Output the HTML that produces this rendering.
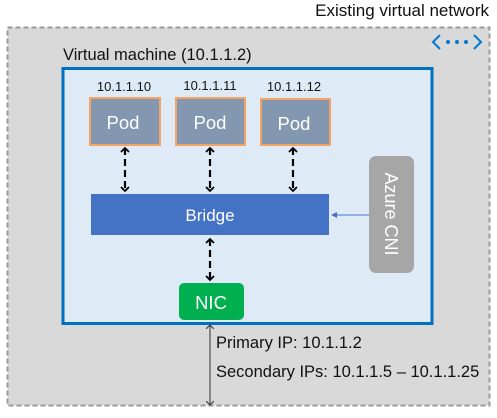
<!DOCTYPE html>
<html><head><style>
body{margin:0;width:497px;height:413px;background:#fff;overflow:hidden;font-family:"Liberation Sans",sans-serif;}
</style></head><body>
<svg width="497" height="413" xmlns="http://www.w3.org/2000/svg" font-family="Liberation Sans, sans-serif">
<defs>
<marker id="a" markerWidth="10" markerHeight="10" refX="5" refY="5" orient="auto-start-reverse" markerUnits="userSpaceOnUse"><path d="M1,1 L5,5 L1,9" fill="none" stroke="#000" stroke-width="1.8"/></marker>
<marker id="t" markerWidth="8" markerHeight="8" refX="4" refY="4" orient="auto-start-reverse" markerUnits="userSpaceOnUse"><path d="M0,0 L4,4 L0,8" fill="none" stroke="#333" stroke-width="1"/></marker>
<marker id="b" markerWidth="6" markerHeight="6" refX="5" refY="3" orient="auto" markerUnits="userSpaceOnUse"><path d="M0,0 L6,3 L0,6 z" fill="#4472c4"/></marker>
</defs>
<text x="489" y="16" text-anchor="end" font-size="17" fill="#111">Existing virtual network</text>
<rect x="7.5" y="27.5" width="482" height="378" fill="#d9d9d9" stroke="#999" stroke-width="2" stroke-dasharray="5,3"/>
<path d="M440,35 L433,42 L440,49 M474,35 L481,42 L474,49" fill="none" stroke="#0078d4" stroke-width="2"/>
<circle cx="448" cy="42" r="2" fill="#0078d4"/><circle cx="457" cy="42" r="2" fill="#0078d4"/><circle cx="466" cy="42" r="2" fill="#0078d4"/>
<text x="63" y="60" font-size="16.5" fill="#111">Virtual machine (10.1.1.2)</text>
<rect x="63" y="68.5" width="369" height="255" fill="#deebf7" stroke="#0070c0" stroke-width="3"/>
<g font-size="13" fill="#111" text-anchor="middle">
<text x="124" y="91">10.1.1.10</text><text x="210" y="90">10.1.1.11</text><text x="294" y="91">10.1.1.12</text></g>
<g fill="#8497b0" stroke="#f4a460" stroke-width="2">
<rect x="90" y="98" width="70" height="47"/><rect x="176" y="98" width="69" height="47"/><rect x="261" y="99" width="69" height="46"/></g>
<g font-size="18.5" fill="#fff" text-anchor="middle">
<text x="123" y="129">Pod</text><text x="210" y="129">Pod</text><text x="294" y="130">Pod</text></g>
<g stroke="#000" stroke-width="2.2" stroke-dasharray="7,4" marker-start="url(#a)" marker-end="url(#a)">
<line x1="125" y1="148" x2="125" y2="191"/><line x1="210" y1="148" x2="210" y2="191"/><line x1="293" y1="148" x2="293" y2="191"/>
<line x1="210" y1="239" x2="210" y2="280"/></g>
<rect x="91" y="194" width="238" height="41" fill="#4472c4"/>
<text x="210" y="221" font-size="17" fill="#fff" text-anchor="middle">Bridge</text>
<rect x="369" y="156" width="45" height="117" rx="7" fill="#a6a6a6"/>
<text transform="translate(385,214) rotate(90)" font-size="18" fill="#fff" text-anchor="middle">Azure CNI</text>
<line x1="369" y1="215" x2="332" y2="215" stroke="#4472c4" stroke-width="1" marker-end="url(#b)"/>
<rect x="179" y="283" width="65" height="37" rx="5" fill="#00b050"/>
<text x="211" y="309" font-size="18.5" fill="#fff" text-anchor="middle">NIC</text>
<line x1="210" y1="325" x2="210" y2="405" stroke="#333" stroke-width="1" marker-start="url(#t)" marker-end="url(#t)"/>
<text x="216" y="348" font-size="16.5" fill="#111">Primary IP: 10.1.1.2</text>
<text x="216" y="377" font-size="16.5" fill="#111">Secondary IPs: 10.1.1.5 – 10.1.1.25</text>
</svg>
</body></html>
